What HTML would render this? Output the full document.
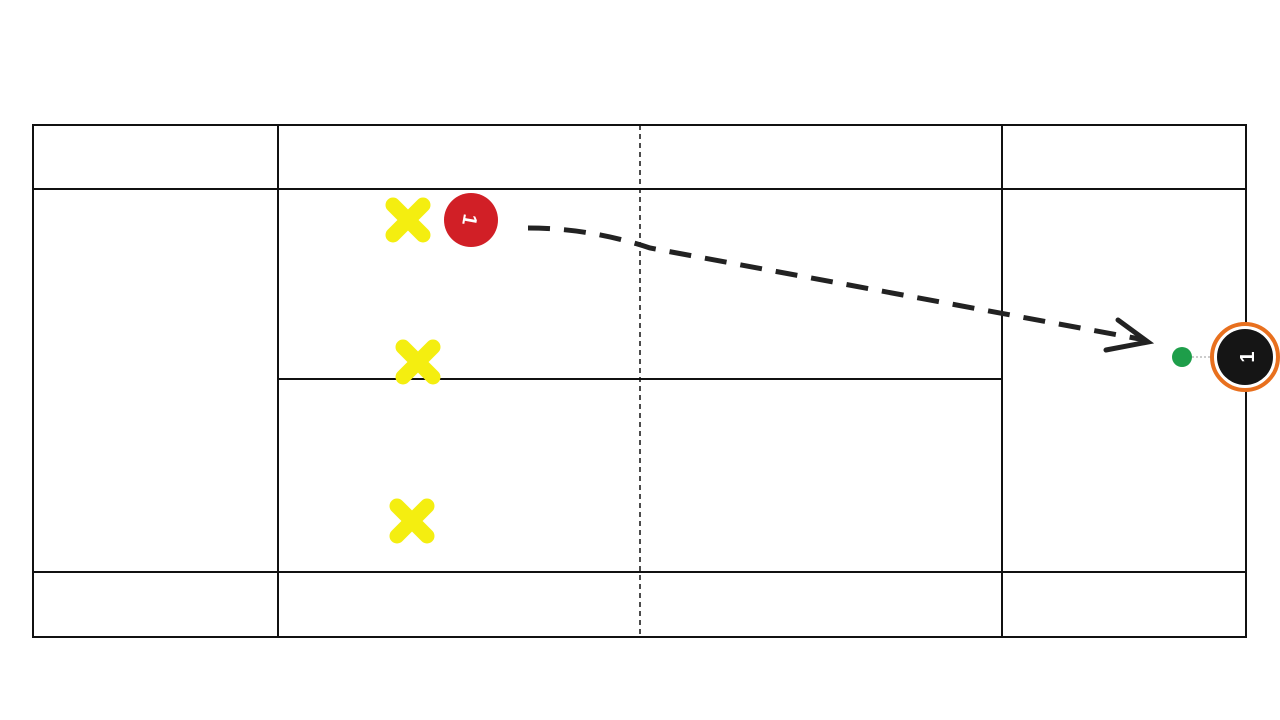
<!DOCTYPE html>
<html><head><style>body{margin:0;background:#fff}svg{display:block}</style></head><body>
<svg width="1280" height="720" viewBox="0 0 1280 720" xmlns="http://www.w3.org/2000/svg">
<rect width="1280" height="720" fill="#fff"/>
<g stroke="#111" stroke-width="2" fill="none">
<rect x="33" y="125" width="1213" height="512"/>
<line x1="33" y1="189" x2="1246" y2="189"/>
<line x1="33" y1="572" x2="1246" y2="572"/>
<line x1="278" y1="125" x2="278" y2="637"/>
<line x1="1002" y1="125" x2="1002" y2="637"/>
<line x1="278" y1="379" x2="1002" y2="379"/>
<line x1="640" y1="125" x2="640" y2="637" stroke-dasharray="5,4" stroke-width="1.5"/>
</g>
<path d="M528,228 Q590,228 650,248 L1145,340" stroke="#222" stroke-width="5" fill="none" stroke-dasharray="22,14"/>
<path d="M1118,320 L1148,342 L1106,350" stroke="#222" stroke-width="5" fill="none" stroke-linecap="round"/>
<g stroke="#f4ee10" stroke-width="15" stroke-linecap="round">
<path d="M393,205 L423,235 M423,205 L393,235"/>
<path d="M403,347 L433,377 M433,347 L403,377"/>
<path d="M397,506 L427,536 M427,506 L397,536"/>
</g>
<circle cx="471" cy="220" r="27" fill="#d11f26"/>
<text x="471" y="228" font-family="Liberation Sans, sans-serif" font-size="20" font-weight="bold" fill="#fff" text-anchor="middle" transform="rotate(100 471 220)">1</text>
<line x1="1192" y1="357" x2="1215" y2="357" stroke="#999" stroke-dasharray="2,2"/>
<circle cx="1182" cy="357" r="10" fill="#1e9e4a"/>
<circle cx="1245" cy="357" r="33" fill="#fff" stroke="#e8701e" stroke-width="4"/>
<circle cx="1245" cy="357" r="28" fill="#151515"/>
<text x="1247" y="364" font-family="Liberation Sans, sans-serif" font-size="20" font-weight="bold" fill="#fff" text-anchor="middle" transform="rotate(-90 1247 357)">1</text>
</svg>
</body></html>
